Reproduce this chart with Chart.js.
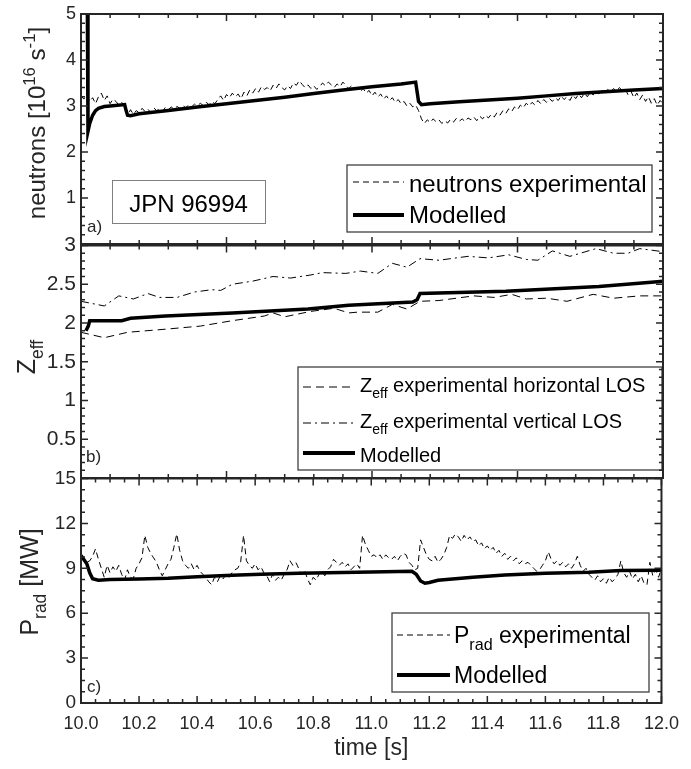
<!DOCTYPE html>
<html>
<head>
<meta charset="utf-8">
<script src="https://cdn.jsdelivr.net/npm/chart.js@4"></script>
<style>
  html, body { margin: 0; padding: 0; background: #fff; }
  #wrap { position: relative; width: 691px; height: 769px; }
  canvas { position: absolute; left: 0; }
</style>
</head>
<body>
<div id="wrap">
  <canvas id="panelA" width="691" height="260" style="top:0px"></canvas>
  <canvas id="panelB" width="691" height="264" style="top:230px"></canvas>
  <canvas id="panelC" width="691" height="305" style="top:464px"></canvas>
</div>
<script>
// sampling times of the experimental traces (s)
const expTime = [
  10.00, 10.01, 10.02, 10.03, 10.04, 10.05, 10.06, 10.07, 10.08, 10.09,
  10.10, 10.11, 10.12, 10.13, 10.14, 10.15, 10.16, 10.17, 10.18, 10.19,
  10.20, 10.21, 10.22, 10.23, 10.24, 10.25, 10.26, 10.27, 10.28, 10.29,
  10.30, 10.31, 10.32, 10.33, 10.34, 10.35, 10.36, 10.37, 10.38, 10.39,
  10.40, 10.41, 10.42, 10.43, 10.44, 10.45, 10.46, 10.47, 10.48, 10.49,
  10.50, 10.51, 10.52, 10.53, 10.54, 10.55, 10.56, 10.57, 10.58, 10.59,
  10.60, 10.61, 10.62, 10.63, 10.64, 10.65, 10.66, 10.67, 10.68, 10.69,
  10.70, 10.71, 10.72, 10.73, 10.74, 10.75, 10.76, 10.77, 10.78, 10.79,
  10.80, 10.81, 10.82, 10.83, 10.84, 10.85, 10.86, 10.87, 10.88, 10.89,
  10.90, 10.91, 10.92, 10.93, 10.94, 10.95, 10.96, 10.97, 10.98, 10.99,
  11.00, 11.01, 11.02, 11.03, 11.04, 11.05, 11.06, 11.07, 11.08, 11.09,
  11.10, 11.11, 11.12, 11.13, 11.14, 11.15, 11.16, 11.17, 11.18, 11.19,
  11.20, 11.21, 11.22, 11.23, 11.24, 11.25, 11.26, 11.27, 11.28, 11.29,
  11.30, 11.31, 11.32, 11.33, 11.34, 11.35, 11.36, 11.37, 11.38, 11.39,
  11.40, 11.41, 11.42, 11.43, 11.44, 11.45, 11.46, 11.47, 11.48, 11.49,
  11.50, 11.51, 11.52, 11.53, 11.54, 11.55, 11.56, 11.57, 11.58, 11.59,
  11.60, 11.61, 11.62, 11.63, 11.64, 11.65, 11.66, 11.67, 11.68, 11.69,
  11.70, 11.71, 11.72, 11.73, 11.74, 11.75, 11.76, 11.77, 11.78, 11.79,
  11.80, 11.81, 11.82, 11.83, 11.84, 11.85, 11.86, 11.87, 11.88, 11.89,
  11.90, 11.91, 11.92, 11.93, 11.94, 11.95, 11.96, 11.97, 11.98, 11.99,
  12.00
]

// a) neutron rate, 1e16 /s
const neutronsExp = [
  3.22, 3.15, 3.25, 3.10, 3.18, 3.05, 3.20, 3.28, 3.12, 3.22,
  3.05, 3.15, 3.10, 3.02, 3.08, 2.98, 2.78, 2.92, 2.82, 2.90,
  2.85, 2.95, 2.88, 2.93, 2.86, 2.96, 2.90, 2.94, 2.88, 2.97,
  2.92, 2.98, 2.93, 2.99, 2.95, 3.01, 2.96, 3.03, 2.98, 3.04,
  3.00, 3.06, 3.01, 3.08, 3.03, 3.10, 3.05, 3.14, 3.22, 3.12,
  3.25, 3.18, 3.28, 3.20, 3.26, 3.16, 3.30, 3.22, 3.35, 3.28,
  3.38, 3.30, 3.42, 3.36, 3.40, 3.33, 3.45, 3.38, 3.48, 3.40,
  3.35, 3.44, 3.38, 3.50, 3.45, 3.55, 3.47, 3.40, 3.46, 3.38,
  3.44, 3.36, 3.42, 3.50, 3.44, 3.52, 3.46, 3.40, 3.48, 3.42,
  3.52, 3.45, 3.38, 3.44, 3.36, 3.40, 3.32, 3.38, 3.28, 3.34,
  3.22, 3.30, 3.20, 3.26, 3.15, 3.22, 3.12, 3.18, 3.08, 3.14,
  3.05, 3.10, 3.00, 3.06, 2.98, 3.02, 2.90, 2.72, 2.62, 2.70,
  2.64, 2.72, 2.66, 2.70, 2.62, 2.68, 2.63, 2.71, 2.65, 2.73,
  2.67, 2.72, 2.66, 2.74, 2.70, 2.76, 2.68, 2.78, 2.72, 2.80,
  2.74, 2.82, 2.76, 2.86, 2.80, 2.90, 2.84, 2.94, 2.88, 2.98,
  2.92, 3.02, 2.96, 3.06, 3.00, 3.08, 3.02, 3.12, 3.05, 3.14,
  3.08, 3.16, 3.10, 3.18, 3.12, 3.22, 3.14, 3.20, 3.12, 3.24,
  3.16, 3.26, 3.18, 3.28, 3.20, 3.30, 3.24, 3.32, 3.26, 3.34,
  3.28, 3.36, 3.30, 3.38, 3.32, 3.40, 3.34, 3.38, 3.24, 3.32,
  3.18, 3.28, 3.14, 3.24, 3.10, 3.20, 3.06, 3.16, 3.02, 3.12,
  3.05
]
const neutronsModTime = [10.022, 10.024, 10.03, 10.04, 10.05, 10.06, 10.08, 10.10, 10.15, 10.155, 10.16, 10.17, 10.20, 10.30, 10.40, 10.50, 10.60, 10.70, 10.80, 10.90, 11.00, 11.10, 11.15, 11.16, 11.17, 11.20, 11.30, 11.40, 11.50, 11.60, 11.70, 11.80, 11.90, 12.00]
const neutronsMod = [5.0, 2.45, 2.62, 2.80, 2.90, 2.95, 2.99, 3.00, 3.03, 2.90, 2.80, 2.79, 2.83, 2.90, 2.98, 3.05, 3.12, 3.19, 3.27, 3.35, 3.42, 3.48, 3.52, 3.10, 3.03, 3.05, 3.09, 3.13, 3.17, 3.22, 3.27, 3.31, 3.35, 3.38]

// b) Zeff
const zeffHorTime = [10.00, 10.08, 10.16, 10.29, 10.41, 10.52, 10.63, 10.66, 10.70, 10.79, 10.87, 10.92, 10.95, 11.02, 11.07, 11.12, 11.165, 11.23, 11.35, 11.42, 11.48, 11.53, 11.60, 11.67, 11.76, 11.83, 11.92, 12.00]
const zeffHor = [1.88, 1.81, 1.88, 1.92, 1.96, 2.03, 2.09, 2.13, 2.08, 2.15, 2.19, 2.13, 2.14, 2.14, 2.24, 2.18, 2.28, 2.29, 2.35, 2.33, 2.37, 2.31, 2.32, 2.28, 2.37, 2.32, 2.35, 2.35]
const zeffVerTime = [10.00, 10.08, 10.13, 10.18, 10.23, 10.27, 10.33, 10.39, 10.45, 10.48, 10.52, 10.59, 10.66, 10.72, 10.79, 10.83, 10.91, 10.96, 11.02, 11.07, 11.12, 11.165, 11.23, 11.33, 11.40, 11.47, 11.53, 11.57, 11.62, 11.68, 11.77, 11.83, 11.88, 11.92, 12.00]
const zeffVer = [2.28, 2.22, 2.35, 2.31, 2.38, 2.33, 2.33, 2.40, 2.43, 2.42, 2.50, 2.54, 2.60, 2.58, 2.62, 2.65, 2.64, 2.67, 2.64, 2.77, 2.72, 2.83, 2.81, 2.86, 2.84, 2.88, 2.82, 2.81, 2.93, 2.86, 2.96, 2.90, 2.90, 2.96, 2.92]
const zeffModTime = [10.017, 10.025, 10.03, 10.14, 10.17, 10.29, 10.52, 10.78, 10.92, 11.14, 11.155, 11.165, 11.46, 11.78, 11.97, 12.00]
const zeffMod = [1.90, 1.96, 2.03, 2.03, 2.06, 2.09, 2.13, 2.18, 2.23, 2.27, 2.30, 2.38, 2.41, 2.47, 2.53, 2.54]

// c) radiated power, MW
const pradExp = [
  9.9, 9.6, 9.4, 9.5, 9.8, 10.3, 9.6, 9.0, 8.4, 9.2,
  8.7, 9.1, 8.8, 9.2, 8.6, 8.2, 8.9, 8.4, 8.3, 9.0,
  9.3, 9.7, 11.2, 10.4, 10.0, 9.7, 9.4, 8.9, 8.5, 8.9,
  9.3, 9.6, 10.4, 11.3, 10.2, 9.5, 9.2, 9.0, 9.3, 8.9,
  9.2, 8.8, 8.6, 8.4, 8.1, 7.9, 8.4, 8.1, 8.5, 8.3,
  8.6, 8.4, 8.7, 8.9, 9.0, 9.4, 11.2, 9.5, 9.2, 9.0,
  9.3, 8.9, 9.1, 8.7, 8.5, 8.1, 8.6, 8.2, 8.4, 8.2,
  8.6, 8.9, 9.5, 9.2, 9.4, 9.0, 8.6, 8.9, 8.3, 7.9,
  8.4, 8.2, 8.6, 8.8, 8.5, 8.9, 9.1, 9.6, 9.4, 9.2,
  9.4, 9.1, 9.3, 8.9, 9.1, 9.3, 9.0, 11.2, 10.6, 10.2,
  9.8, 9.9, 9.7, 9.9, 9.6, 9.9, 9.7, 9.6, 9.8, 9.5,
  9.8, 10.0, 9.9, 9.4, 9.2, 8.9, 9.0, 10.9, 10.4, 9.9,
  9.6, 9.5, 9.8, 9.4, 9.6, 9.9, 10.4, 11.2, 11.0, 11.3,
  11.1, 10.8, 11.2, 10.9, 11.1, 10.8, 10.9, 10.5, 10.7, 10.3,
  10.5, 10.2, 10.4, 10.0, 10.2, 9.8, 10.0, 9.6, 9.8, 9.5,
  9.7, 9.3, 9.5, 9.3, 9.4, 9.2, 9.0, 8.8, 8.9, 9.2,
  9.5, 10.1, 9.6, 9.3, 9.5, 9.2, 9.4, 9.1, 9.3, 9.0,
  9.3, 9.8, 9.2, 8.8, 9.0, 8.6, 8.4, 8.2, 8.5, 8.1,
  8.3, 8.0, 8.4, 8.1, 8.3, 8.6, 9.5, 8.7, 8.4, 8.8,
  8.3, 8.6, 8.1, 8.5, 8.0, 7.9, 9.4, 8.5, 8.9, 8.4,
  9.0
]
const pradModTime = [10.00, 10.02, 10.03, 10.04, 10.06, 10.10, 10.20, 10.30, 10.40, 10.52, 10.62, 10.75, 10.90, 11.00, 11.14, 11.155, 11.17, 11.185, 11.20, 11.23, 11.30, 11.35, 11.46, 11.60, 11.75, 11.86, 12.00]
const pradMod = [9.85, 9.3, 8.7, 8.3, 8.2, 8.25, 8.28, 8.33, 8.43, 8.53, 8.6, 8.67, 8.72, 8.75, 8.8, 8.6, 8.15, 8.0, 8.05, 8.2, 8.32, 8.4, 8.55, 8.67, 8.73, 8.85, 8.87]

const FONT = '"Liberation Sans", Arial, sans-serif'
const INK = '#262626'
Chart.defaults.font.family = FONT
Chart.defaults.color = INK

function points(t, v) {
    return t.map((x, i) => ({x, y: v[i]}))
}
function expSet(label, t, v, dash) {
    return {label, data: points(t, v), borderColor: '#000', borderWidth: 1, borderDash: dash, pointRadius: 0, tension: 0}
}
function modSet(t, v) {
    return {label: 'Modelled', data: points(t, v), borderColor: '#000', borderWidth: 3.5, pointRadius: 0, tension: 0}
}

// text with ^{..} and _{..} pieces, baseline at y
function richText(ctx, text, x, y, size, align) {
    const segs = text.split(/(\^\{[^}]*\}|_\{[^}]*\})/).filter(p => p).map(p => {
        if (p.startsWith('^{')) return {t: p.slice(2, -1), s: size * 0.7, dy: -size * 0.42}
        if (p.startsWith('_{')) return {t: p.slice(2, -1), s: size * 0.7, dy: size * 0.32}
        return {t: p, s: size, dy: 0}
    })
    let w = 0
    segs.forEach(sg => {
        ctx.font = `${sg.s}px ${FONT}`
        sg.w = ctx.measureText(sg.t).width
        w += sg.w
    })
    let cx = align === 'center' ? x - w / 2 : x
    ctx.textAlign = 'left'
    ctx.textBaseline = 'alphabetic'
    segs.forEach(sg => {
        ctx.font = `${sg.s}px ${FONT}`
        ctx.fillText(sg.t, cx, y + sg.dy)
        cx += sg.w
    })
}

// page-coordinate decorations of each panel
const decor = {
    panelA: {
        xMinor: 0.1, xEvery: 5, yMinor: 0.2, yEvery: 5,
        yTitle: {text: 'neutrons [10^{16} s^{-1}]', x: 45, y: 123, size: 24},
        tag: {text: 'a)', x: 87, y: 232},
        note: {box: [112, 180, 265, 223], text: 'JPN 96994', base: 212, size: 24},
        legend: {box: [347, 165, 652, 232], size: 24, sample: [353, 404], textX: 409,
            rows: [{ds: 0, y: 182, base: 192}, {ds: 1, y: 215, base: 223}]}
    },
    panelB: {
        xMinor: 0.1, xEvery: 5, yMinor: 0.1, yEvery: 5,
        yTitle: {text: 'Z_{eff}', x: 35, y: 357, size: 25},
        tag: {text: 'b)', x: 86, y: 462},
        legend: {box: [298, 367, 662, 470], size: 20, sample: [303, 355], textX: 360,
            rows: [{ds: 0, y: 387, base: 392}, {ds: 1, y: 423, base: 428}, {ds: 2, y: 453, base: 462}]}
    },
    panelC: {
        xMinor: 0.05, xEvery: 4, yMinor: 0.75, yEvery: 4,
        yTitle: {text: 'P_{rad} [MW]', x: 38, y: 582, size: 25},
        tag: {text: 'c)', x: 87, y: 692},
        legend: {box: [392, 613, 649, 692], size: 23, sample: [397, 450], textX: 454,
            rows: [{ds: 0, y: 635, base: 643}, {ds: 1, y: 675, base: 683}]}
    }
}

const framePlugin = {
    id: 'frame',
    afterDraw(chart) {
        const d = decor[chart.canvas.id]
        const off = chart.canvas.offsetTop
        const {ctx, chartArea: a, scales: {x, y}} = chart
        ctx.save()
        ctx.fillStyle = INK

        // y axis title, rotated
        ctx.save()
        ctx.translate(d.yTitle.x, d.yTitle.y - off)
        ctx.rotate(-Math.PI / 2)
        richText(ctx, d.yTitle.text, 0, 0, d.yTitle.size, 'center')
        ctx.restore()

        richText(ctx, d.tag.text, d.tag.x, d.tag.y - off, 17, 'left')

        if (d.note) {
            const [x1, y1, x2, y2] = d.note.box
            ctx.fillStyle = '#fff'
            ctx.fillRect(x1, y1 - off, x2 - x1, y2 - y1)
            ctx.strokeStyle = '#7f7f7f'
            ctx.lineWidth = 1
            ctx.strokeRect(x1 + 0.5, y1 - off + 0.5, x2 - x1, y2 - y1)
            ctx.fillStyle = '#000'
            richText(ctx, d.note.text, (x1 + x2) / 2, d.note.base - off, d.note.size, 'center')
        }

        const lg = d.legend
        const [lx1, ly1, lx2, ly2] = lg.box
        ctx.fillStyle = '#fff'
        ctx.fillRect(lx1, ly1 - off, lx2 - lx1, ly2 - ly1)
        ctx.strokeStyle = '#404040'
        ctx.lineWidth = 1.3
        ctx.strokeRect(lx1, ly1 - off, lx2 - lx1, ly2 - ly1)
        lg.rows.forEach(r => {
            const ds = chart.data.datasets[r.ds]
            ctx.strokeStyle = ds.borderColor
            ctx.lineWidth = ds.borderWidth > 2 ? 4 : 1
            ctx.setLineDash(ds.borderDash || [])
            ctx.beginPath()
            ctx.moveTo(lg.sample[0], r.y - off)
            ctx.lineTo(lg.sample[1], r.y - off)
            ctx.stroke()
            ctx.setLineDash([])
            ctx.fillStyle = '#000'
            richText(ctx, ds.label, lg.textX, r.base - off, lg.size, 'left')
        })

        // box with inward ticks on all four sides
        ctx.strokeStyle = INK
        ctx.lineWidth = 1.5
        ctx.beginPath()
        const nx = Math.round((x.max - x.min) / d.xMinor)
        for (let i = 0; i <= nx; i++) {
            const px = x.getPixelForValue(x.min + i * d.xMinor)
            const len = i % d.xEvery === 0 ? 7 : 4
            ctx.moveTo(px, a.bottom); ctx.lineTo(px, a.bottom - len)
            ctx.moveTo(px, a.top); ctx.lineTo(px, a.top + len)
        }
        const ny = Math.round((y.max - y.min) / d.yMinor)
        for (let i = 0; i <= ny; i++) {
            const py = y.getPixelForValue(y.min + i * d.yMinor)
            const len = i % d.yEvery === 0 ? 7 : 4
            ctx.moveTo(a.left, py); ctx.lineTo(a.left + len, py)
            ctx.moveTo(a.right, py); ctx.lineTo(a.right - len, py)
        }
        ctx.stroke()
        ctx.lineWidth = 2
        ctx.strokeRect(a.left, a.top, a.right - a.left, a.bottom - a.top)
        ctx.restore()
    }
}

function panelChart(id, datasets, yCfg, padding, withTimeAxis) {
    return new Chart(document.getElementById(id), {
        type: 'line',
        data: {datasets},
        plugins: [framePlugin],
        options: {
            responsive: false,
            animation: false,
            devicePixelRatio: 1,
            layout: {padding},
            plugins: {legend: {display: false}, tooltip: {enabled: false}},
            scales: {
                x: {
                    type: 'linear',
                    min: 10,
                    max: 12,
                    display: withTimeAxis,
                    afterFit: s => { s.height = withTimeAxis ? 66 : 0 },
                    grid: {display: false, drawTicks: false},
                    border: {display: false},
                    ticks: {stepSize: 0.2, padding: 12, font: {size: 18, lineHeight: 1}, color: INK, maxRotation: 0},
                    title: {display: true, text: 'time [s]', font: {size: 23}, color: INK, padding: {top: 0, bottom: 7}}
                },
                y: {
                    min: yCfg.min,
                    max: yCfg.max,
                    afterFit: s => { s.width = 81 },
                    grid: {display: false, drawTicks: false},
                    border: {display: false},
                    ticks: {
                        stepSize: yCfg.step,
                        padding: 5,
                        font: {size: yCfg.font, lineHeight: 1},
                        color: INK,
                        callback: v => (v === 0 && yCfg.hideZero) ? '' : v
                    }
                }
            }
        }
    })
}

panelChart('panelA', [
    expSet('neutrons experimental', expTime, neutronsExp, [6, 4]),
    modSet(neutronsModTime, neutronsMod)
], {min: 0, max: 5, step: 1, font: 18, hideZero: true}, {left: 0, right: 28, top: 10, bottom: 16}, false)

panelChart('panelB', [
    expSet('Z_{eff} experimental horizontal LOS', zeffHorTime, zeffHor, [8, 5]),
    expSet('Z_{eff} experimental vertical LOS', zeffVerTime, zeffVer, [8, 4, 2, 4]),
    modSet(zeffModTime, zeffMod)
], {min: 0, max: 3, step: 0.5, font: 21, hideZero: true}, {left: 0, right: 28, top: 14, bottom: 16}, false)

panelChart('panelC', [
    expSet('P_{rad} experimental', expTime, pradExp, [6, 4]),
    modSet(pradModTime, pradMod)
], {min: 0, max: 15, step: 3, font: 19, hideZero: false}, {left: 0, right: 28, top: 14, bottom: 0}, true)
</script>
</body>
</html>
